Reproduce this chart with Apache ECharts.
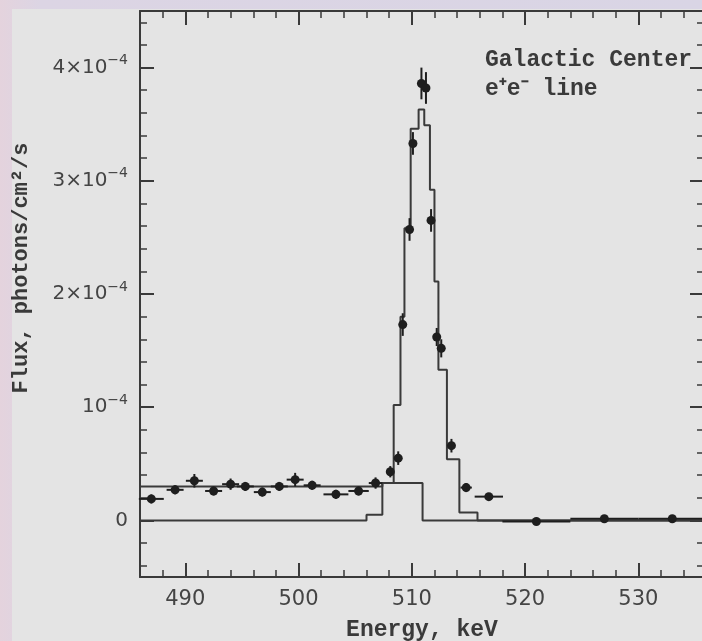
<!DOCTYPE html>
<html>
<head>
<meta charset="utf-8">
<script src="https://cdn.jsdelivr.net/npm/echarts@6/dist/echarts.min.js"></script>
<style>
  html, body { margin: 0; padding: 0; }
  body { width: 702px; height: 641px; background: linear-gradient(90deg, #e4d3dd 0px, #dcd5e4 40px, #d9d5e5 100%); }
  #main { position: absolute; left: 0; top: 0; width: 702px; height: 641px; }
</style>
</head>
<body>
<div id="main"></div>
<script>
// measured points (flux in units of 1e-4 photons/cm2/s)
var energy = [487, 489.1, 490.8, 492.5, 494.0, 495.3, 496.8, 498.3, 499.7, 501.2, 503.3, 505.3, 506.8,
    508.1, 508.8, 509.2, 509.8, 510.1, 510.85, 511.25, 511.7, 512.2, 512.6, 513.5, 514.8, 516.8, 521.0, 527.0, 533.0];
var flux = [0.19, 0.27, 0.35, 0.26, 0.32, 0.30, 0.25, 0.30, 0.36, 0.31, 0.23, 0.26, 0.33,
    0.43, 0.55, 1.73, 2.57, 3.33, 3.86, 3.82, 2.65, 1.62, 1.52, 0.66, 0.29, 0.21, -0.01, 0.015, 0.015];
var energyErr = [1.1, 0.75, 0.75, 0.75, 0.75, 0.75, 0.75, 0.75, 0.75, 0.75, 1.1, 0.9, 0.6,
    0.3, 0.3, 0.2, 0.2, 0.2, 0.2, 0.2, 0.2, 0.2, 0.2, 0.3, 0.5, 1.25, 3, 3, 3];
var fluxErr = [0.04, 0.04, 0.06, 0.04, 0.05, 0.04, 0.04, 0.04, 0.06, 0.04, 0.04, 0.04, 0.05,
    0.05, 0.06, 0.1, 0.1, 0.1, 0.14, 0.14, 0.1, 0.08, 0.08, 0.06, 0.04, 0.03, 0.02, 0.02, 0.02];

// model histograms: bin left edges and levels
var totalEdges = [486, 507.4, 508.4, 509.0, 509.35, 509.9, 510.6, 511.1, 511.6, 512.0, 512.35, 513.1, 514.2, 515.8, 536];
var totalLevels = [0.30, 0.33, 1.02, 1.80, 2.58, 3.46, 3.63, 3.49, 2.92, 2.11, 1.33, 0.54, 0.07, 0.0, 0.0];
var contEdges = [486, 506.0, 507.4, 510.95, 536];
var contLevels = [0, 0.05, 0.33, 0, 0];

// y tick labels: mantissa and exponent
var yTicks = { 0: ['0', ''], 1: ['10', '−4'], 2: ['2×10', '−4'], 3: ['3×10', '−4'], 4: ['4×10', '−4'] };

var ink = '#3a3a3a';

function zip(a, b) {
    var out = [];
    for (var i = 0; i < a.length; i++) out.push([a[i], b[i]]);
    return out;
}

var points = [];
for (var i = 0; i < energy.length; i++) {
    points.push([energy[i], flux[i], energy[i] - energyErr[i], energy[i] + energyErr[i],
        flux[i] - fluxErr[i], flux[i] + fluxErr[i]]);
}

function frameAxis(pos, labels) {
    return {
        type: 'value',
        position: pos,
        splitLine: { show: false },
        axisLine: { show: true, onZero: false, lineStyle: { color: ink, width: 2 } },
        axisTick: { show: true, inside: true, length: 14, lineStyle: { color: ink, width: 2 } },
        minorTick: { show: true, splitNumber: 5, length: 7, lineStyle: { color: ink, width: 1.5 } },
        axisLabel: { show: labels }
    };
}

var xBottom = frameAxis('bottom', true);
xBottom.min = 486; xBottom.max = 535.8;
xBottom.axisLabel = {
    show: true, margin: 12, color: '#444', fontFamily: 'DejaVu Sans', fontSize: 21,
    formatter: function (v) { return v % 10 === 0 ? String(v) : ''; }
};
xBottom.name = 'Energy, keV';
xBottom.nameLocation = 'middle';
xBottom.nameGap = 42;
xBottom.nameTextStyle = { color: '#3a3a3a', fontFamily: 'Liberation Mono', fontWeight: 'bold', fontSize: 23 };

var xTop = frameAxis('top', false);
xTop.min = 486; xTop.max = 535.8;

var yLeft = frameAxis('left', true);
yLeft.min = -0.5; yLeft.max = 4.5;
yLeft.axisLabel = {
    show: true, margin: 12, color: '#444',
    formatter: function (v) {
        var t = yTicks[v];
        if (!t) return '';
        return t[1] ? '{b|' + t[0] + '}{s|' + t[1] + '}' : '{b|' + t[0] + '}';
    },
    rich: {
        b: { fontFamily: 'DejaVu Sans', fontSize: 20, lineHeight: 28, color: '#444' },
        s: { fontFamily: 'DejaVu Sans', fontSize: 14, lineHeight: 14, verticalAlign: 'top', color: '#444' }
    }
};
yLeft.name = 'Flux, photons/cm²/s';
yLeft.nameLocation = 'middle';
yLeft.nameGap = 108;
yLeft.nameTextStyle = { color: '#3a3a3a', fontFamily: 'Liberation Mono', fontWeight: 'bold', fontSize: 22, padding: [0, 0, 0, 52] };

var yRight = frameAxis('right', false);
yRight.min = -0.5; yRight.max = 4.5;

var chart = echarts.init(document.getElementById('main'), null, { renderer: 'canvas' });

chart.setOption({
    animation: false,
    backgroundColor: 'transparent',
    grid: { left: 140, right: -2, top: 11, bottom: 64, containLabel: false, outerBoundsMode: 'none' },
    graphic: [
        { type: 'rect', z: -10, shape: { x: 12, y: 9, width: 700, height: 640 }, style: { fill: '#e4e4e4' } },
        { type: 'text', left: 485, top: 49, style: { text: 'Galactic Center', fill: ink, font: 'bold 23px "Liberation Mono"' } },
        { type: 'text', left: 485, top: 78, style: { text: 'e⁺e⁻ line', fill: ink, font: 'bold 23px "Liberation Mono"' } }
    ],
    xAxis: [xBottom, xTop],
    yAxis: [yLeft, yRight],
    series: [
        {
            type: 'line', step: 'end', showSymbol: false, data: zip(totalEdges, totalLevels),
            lineStyle: { color: ink, width: 2 }
        },
        {
            type: 'line', step: 'end', showSymbol: false, data: zip(contEdges, contLevels),
            lineStyle: { color: ink, width: 2 }
        },
        {
            type: 'custom',
            data: points,
            renderItem: function (params, api) {
                var c = api.coord([api.value(0), api.value(1)]);
                var xl = api.coord([api.value(2), api.value(1)]);
                var xh = api.coord([api.value(3), api.value(1)]);
                var yl = api.coord([api.value(0), api.value(4)]);
                var yh = api.coord([api.value(0), api.value(5)]);
                var st = { stroke: '#1e1e1e', lineWidth: 2 };
                return {
                    type: 'group',
                    children: [
                        { type: 'line', shape: { x1: xl[0], y1: c[1], x2: xh[0], y2: c[1] }, style: st },
                        { type: 'line', shape: { x1: c[0], y1: yl[1], x2: c[0], y2: yh[1] }, style: st },
                        { type: 'circle', shape: { cx: c[0], cy: c[1], r: 4.5 }, style: { fill: '#1e1e1e' } }
                    ]
                };
            },
            z: 5
        }
    ]
});
</script>
</body>
</html>
